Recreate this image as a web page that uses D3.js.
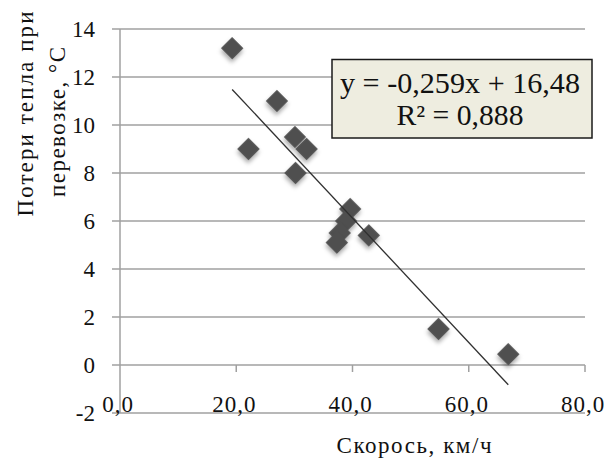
<!DOCTYPE html>
<html><head><meta charset="utf-8">
<script src="https://cdn.jsdelivr.net/npm/d3@7"></script>
<style>html,body{margin:0;padding:0;background:#fff;}svg{display:block;}</style>
</head><body>
<svg id="c" width="609" height="459"></svg>
<script>
const speed = [19.3, 27.0, 22.1, 30.1, 32.1, 30.2, 39.6, 38.9, 37.8, 37.3, 42.8, 54.8, 66.8];
const heatLoss = [13.2, 11.0, 9.0, 9.5, 9.0, 8.0, 6.5, 6.0, 5.5, 5.1, 5.4, 1.5, 0.45];
const xTicks = [0, 20, 40, 60, 80];
const yTicks = [-2, 0, 2, 4, 6, 8, 10, 12, 14];
const slope = -0.259, intercept = 16.48;
const eqLines = ["y = -0,259x + 16,48", "R² = 0,888"];
const xTitle = "Скорось, км/ч";
const yTitle = ["Потери тепла при", "перевозке, °С"];

const svg = d3.select("#c");
const x = d3.scaleLinear().domain([0, 80]).range([120, 585]);
const y = d3.scaleLinear().domain([-2, 14]).range([413, 29]);
const serif = "'Liberation Serif','Times New Roman',serif";

const defs = svg.append("defs");
const f = defs.append("filter").attr("id","sh").attr("x","-50%").attr("y","-50%").attr("width","200%").attr("height","200%");
f.append("feDropShadow").attr("dx",2).attr("dy",2.5).attr("stdDeviation",2).attr("flood-color","#000").attr("flood-opacity",0.35);

// gridlines
svg.append("g").selectAll("line").data(yTicks).join("line")
  .attr("x1", 112).attr("x2", x(80))
  .attr("y1", d => y(d)).attr("y2", d => y(d))
  .attr("stroke", "#a0a0a0").attr("stroke-width", 1.5);

// y axis
svg.append("line").attr("x1", x(0)).attr("x2", x(0)).attr("y1", y(14)).attr("y2", y(-2))
  .attr("stroke", "#a0a0a0").attr("stroke-width", 1.5);
// x ticks (down from y=0)
svg.append("g").selectAll("line").data(xTicks.slice(1)).join("line")
  .attr("x1", d => x(d)).attr("x2", d => x(d))
  .attr("y1", y(0)).attr("y2", y(0) + 7)
  .attr("stroke", "#a0a0a0").attr("stroke-width", 1.5);

// y tick labels
svg.append("g").selectAll("text").data(yTicks).join("text")
  .attr("x", 95).attr("y", d => y(d)).attr("dy", "0.35em")
  .attr("text-anchor", "end").attr("font-family", serif).attr("font-size", 23)
  .attr("fill", "#111").text(d => d);

// x tick labels
svg.append("g").selectAll("text").data(xTicks).join("text")
  .attr("x", d => x(d) - 2).attr("y", y(-2) - 1)
  .attr("text-anchor", "middle").attr("font-family", serif).attr("font-size", 23)
  .attr("letter-spacing", 1)
  .attr("fill", "#111").text(d => d.toFixed(1).replace(".", ","));

// points
const sym = d3.symbol().type(d3.symbolSquare).size(250);
svg.append("g").selectAll("path").data(speed.map((s, i) => [s, heatLoss[i]])).join("path")
  .attr("d", sym)
  .attr("transform", d => `translate(${x(d[0])},${y(d[1])}) rotate(45)`)
  .attr("fill", "#4f4f4f").attr("filter", "url(#sh)");

// trendline
const xmin = d3.min(speed), xmax = d3.max(speed);
svg.append("line")
  .attr("x1", x(xmin)).attr("y1", y(slope * xmin + intercept))
  .attr("x2", x(xmax)).attr("y2", y(slope * xmax + intercept))
  .attr("stroke", "#303030").attr("stroke-width", 1.3);

// equation box
svg.append("rect").attr("x", 332).attr("y", 59.5).attr("width", 260).attr("height", 78.5)
  .attr("fill", "#eeede0").attr("stroke", "#1a1a1a").attr("stroke-width", 1.5);
svg.append("text").attr("x", 460).attr("y", 83).attr("dy", "0.35em")
  .attr("text-anchor", "middle").attr("font-family", serif).attr("font-size", 29)
  .attr("textLength", 240).attr("lengthAdjust", "spacingAndGlyphs")
  .attr("fill", "#111").text(eqLines[0]);
svg.append("text").attr("x", 460).attr("y", 115).attr("dy", "0.35em")
  .attr("text-anchor", "middle").attr("font-family", serif).attr("font-size", 29)
  .attr("textLength", 127).attr("lengthAdjust", "spacingAndGlyphs")
  .attr("fill", "#111").text(eqLines[1]);

// x title
svg.append("text").attr("x", 414).attr("y", 445).attr("dy", "0.35em")
  .attr("text-anchor", "middle").attr("font-family", serif).attr("font-size", 23)
  .attr("textLength", 155).attr("lengthAdjust", "spacing")
  .attr("fill", "#111").text(xTitle);

// y title
svg.append("text").attr("transform", "translate(25,114) rotate(-90)").attr("dy", "0.35em")
  .attr("text-anchor", "middle").attr("font-family", serif).attr("font-size", 23)
  .attr("textLength", 205).attr("lengthAdjust", "spacing")
  .attr("fill", "#111").text(yTitle[0]);
svg.append("text").attr("transform", "translate(57,122) rotate(-90)").attr("dy", "0.35em")
  .attr("text-anchor", "middle").attr("font-family", serif).attr("font-size", 23)
  .attr("textLength", 150).attr("lengthAdjust", "spacing")
  .attr("fill", "#111").text(yTitle[1]);
</script>
</body></html>
